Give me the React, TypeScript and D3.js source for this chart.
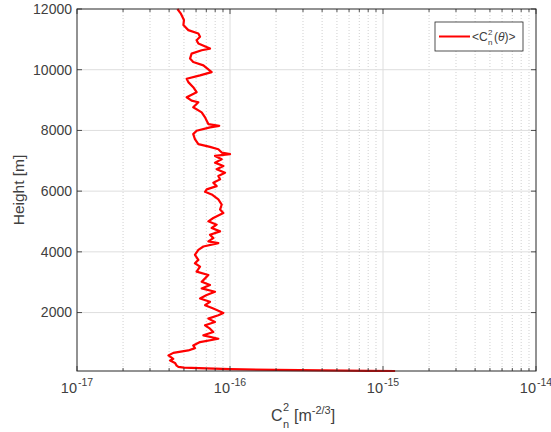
import React from "react";
import * as d3 from "d3";

// C_n^2 profile (value, height in m)
const cn2 = [
  4.53e-17, 4.76e-17, 5.0e-17, 4.96e-17, 5.34e-17, 6.21e-17, 6.37e-17, 6.05e-17, 6.21e-17, 7.4e-17,
  6.53e-17, 5.61e-17, 5.48e-17, 5.75e-17, 6.7e-17, 7.59e-17, 6.37e-17, 5.21e-17, 5.34e-17, 5.75e-17,
  6.05e-17, 5.21e-17, 5.61e-17, 6.21e-17, 5.75e-17, 6.53e-17, 6.87e-17, 7.04e-17, 7.22e-17, 8.5e-17,
  7.4e-17, 6.05e-17, 5.75e-17, 5.9e-17, 6.21e-17, 7.4e-17, 8.39e-17, 8.83e-17, 1.0e-16, 7.98e-17,
  8.83e-17, 7.98e-17, 9.05e-17, 8.18e-17, 9.28e-17, 8.39e-17, 8.61e-17, 7.78e-17, 8.18e-17, 7.04e-17,
  6.87e-17, 7.59e-17, 8.39e-17, 8.83e-17, 8.61e-17, 9.05e-17, 7.78e-17, 7.22e-17, 8.18e-17, 7.59e-17,
  8.61e-17, 7.4e-17, 7.78e-17, 7.22e-17, 8.39e-17, 6.7e-17, 6.21e-17, 5.9e-17, 6.21e-17, 5.9e-17,
  6.37e-17, 6.05e-17, 7.22e-17, 6.87e-17, 6.53e-17, 7.4e-17, 6.53e-17, 7.98e-17, 7.04e-17, 6.37e-17,
  7.4e-17, 6.87e-17, 7.78e-17, 9.05e-17, 8.39e-17, 7.22e-17, 7.98e-17, 6.87e-17, 7.4e-17, 7.78e-17,
  6.7e-17, 8.39e-17, 6.37e-17, 5.75e-17, 5.9e-17, 5.34e-17, 4.26e-17, 3.96e-17, 4.26e-17, 4.06e-17,
  4.37e-17, 4.48e-17, 4.6e-17, 5.0e-17, 7.0e-17, 1.0e-16, 2.0e-16, 4.0e-16, 8.0e-16, 1.2e-15,
];
const heights = [
  12000, 11857, 11636, 11470, 11304, 11193, 11083, 10973, 10862, 10697,
  10641, 10531, 10366, 10255, 10144, 9922, 9812, 9702, 9591, 9425,
  9259, 9093, 8983, 8928, 8762, 8596, 8430, 8320, 8209, 8150,
  8099, 7989, 7879, 7714, 7548, 7459, 7382, 7270, 7217, 7160,
  7051, 6939, 6829, 6720, 6608, 6497, 6388, 6276, 6166, 6057,
  5977, 5891, 5725, 5559, 5393, 5282, 5115, 5006, 4896, 4785,
  4674, 4565, 4452, 4343, 4286, 4177, 4067, 3902, 3736, 3623,
  3514, 3348, 3239, 3126, 3017, 2907, 2795, 2685, 2576, 2463,
  2354, 2244, 2132, 1989, 1913, 1800, 1691, 1581, 1469, 1359,
  1250, 1137, 1028, 918, 829, 752, 673, 587, 475, 420,
  341, 250, 210, 185, 160, 135, 110, 95, 82, 75,
];

const xDecades = [1e-17, 1e-16, 1e-15, 1e-14];
const xExps = ["-17", "-16", "-15", "-14"];
const yTicks = [2000, 4000, 6000, 8000, 10000, 12000];

const W = 551;
const H = 432;
const m = { left: 77, right: 536, top: 9, bottom: 371 };
const axisColor = "#262626";
const labelColor = "#404040";
const font = "'Liberation Sans', Arial, sans-serif";

export default function App() {
  const x = d3.scaleLog().domain([1e-17, 1e-14]).range([m.left, m.right]);
  const y = d3.scaleLinear().domain([75, 12000]).range([m.bottom, m.top]);

  const minor: number[] = [];
  xDecades.slice(0, 3).forEach((d) => {
    for (let k = 2; k <= 9; k++) minor.push(d * k);
  });

  const pts: [number, number][] = cn2.map((v, i) => [v, heights[i]]);
  const line = d3
    .line<[number, number]>()
    .x((d) => x(d[0]))
    .y((d) => y(d[1]));

  return (
    <svg width={W} height={H} style={{ position: "absolute", left: 0, top: 0, background: "#fff" }}>
      <rect x={0} y={0} width={W} height={H} fill="#fff" />
      {/* grid */}
      {minor.map((v) => (
        <line key={"mg" + v} x1={x(v)} x2={x(v)} y1={m.top} y2={m.bottom} stroke="#c4c4c4" strokeWidth={0.8} strokeDasharray="1,2" />
      ))}
      {xDecades.slice(1, 3).map((v) => (
        <line key={"xg" + v} x1={x(v)} x2={x(v)} y1={m.top} y2={m.bottom} stroke="#dedede" strokeWidth={1} />
      ))}
      {yTicks.slice(0, 5).map((v) => (
        <line key={"yg" + v} x1={m.left} x2={m.right} y1={y(v)} y2={y(v)} stroke="#dedede" strokeWidth={1} />
      ))}

      {/* data */}
      <path d={line(pts) || ""} fill="none" stroke="#ff0000" strokeWidth={2.2} strokeLinejoin="round" />

      {/* ticks */}
      {minor.map((v) => (
        <g key={"mt" + v} stroke={axisColor} strokeWidth={0.8}>
          <line x1={x(v)} x2={x(v)} y1={m.bottom} y2={m.bottom - 3} />
          <line x1={x(v)} x2={x(v)} y1={m.top} y2={m.top + 3} />
        </g>
      ))}
      {xDecades.map((v) => (
        <g key={"xt" + v} stroke={axisColor} strokeWidth={0.8}>
          <line x1={x(v)} x2={x(v)} y1={m.bottom} y2={m.bottom - 5} />
          <line x1={x(v)} x2={x(v)} y1={m.top} y2={m.top + 5} />
        </g>
      ))}
      {yTicks.map((v) => (
        <g key={"yt" + v} stroke={axisColor} strokeWidth={0.8}>
          <line x1={m.left} x2={m.left + 5} y1={y(v)} y2={y(v)} />
          <line x1={m.right} x2={m.right - 5} y1={y(v)} y2={y(v)} />
        </g>
      ))}

      {/* box */}
      <rect x={m.left} y={m.top} width={m.right - m.left} height={m.bottom - m.top} fill="none" stroke={axisColor} strokeWidth={1} />

      {/* tick labels */}
      {yTicks.map((v) => (
        <text key={"yl" + v} x={m.left - 5} y={y(v)} dy="0.35em" textAnchor="end" fontFamily={font} fontSize={14} fill={labelColor}>
          {v}
        </text>
      ))}
      {xDecades.map((v, i) => (
        <text key={"xl" + v} x={x(v)} y={m.bottom + 22} textAnchor="middle" fontFamily={font} fontSize={14.5} fill={labelColor}>
          10
          <tspan fontSize={10.5} dy={-7} dx={1}>{xExps[i]}</tspan>
        </text>
      ))}

      {/* axis labels */}
      <g fontFamily={font} fill={labelColor}>
        <text x={271} y={421} fontSize={16}>C</text>
        <text x={283} y={411} fontSize={11}>2</text>
        <text x={283} y={428} fontSize={11}>n</text>
        <text x={294} y={421} fontSize={16}>
          [m<tspan fontSize={11} dy={-7}>-2/3</tspan>
          <tspan dy={7}>]</tspan>
        </text>
        <text transform={`translate(24, ${(m.top + m.bottom) / 2}) rotate(-90)`} textAnchor="middle" fontSize={15.5}>
          Height [m]
        </text>
      </g>

      {/* legend */}
      <rect x={435} y={22} width={88} height={29} fill="#fff" stroke={axisColor} strokeWidth={0.8} />
      <line x1={439} x2={470} y1={36.5} y2={36.5} stroke="#ff0000" strokeWidth={2} />
      <g fontFamily={font} fill={labelColor}>
        <text x={472} y={41} fontSize={12}>&lt;C</text>
        <text x={488} y={35} fontSize={8}>2</text>
        <text x={488} y={45} fontSize={8}>n</text>
        <text x={494} y={41} fontSize={12}>
          (<tspan fontStyle="italic">θ</tspan>)&gt;
        </text>
      </g>
    </svg>
  );
}
